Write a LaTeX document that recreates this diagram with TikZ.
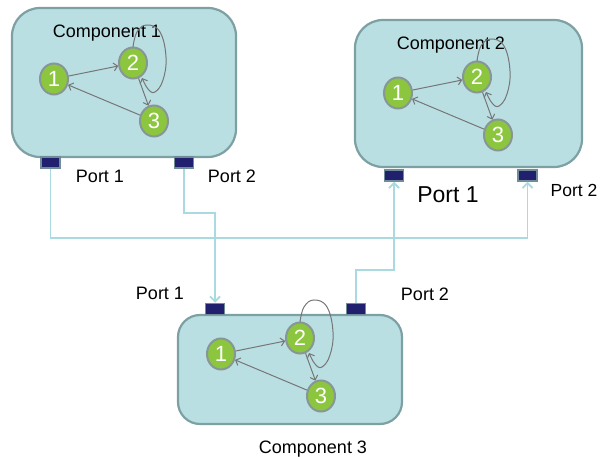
\documentclass[tikz,border=0pt]{standalone}
\usepackage{fontspec}
\setmainfont{Liberation Sans}
\usetikzlibrary{arrows.meta,shapes.geometric}

\definecolor{boxfill}{RGB}{185,223,227}
\definecolor{boxline}{RGB}{125,160,163}
\definecolor{portfill}{RGB}{32,32,110}
\definecolor{portline}{RGB}{112,140,150}
\definecolor{wirecol}{RGB}{168,218,224}
\definecolor{statefill}{RGB}{140,198,63}
\definecolor{stateline}{RGB}{135,150,150}
\definecolor{edgegray}{RGB}{118,118,118}

\tikzset{
  component/.style={draw=boxline, line width=2.2pt, fill=boxfill,
    rounded corners=#1, inner sep=0pt},
  portbox/.style={draw=portline, line width=1.5pt, fill=portfill,
    minimum width=19pt, minimum height=11pt, inner sep=0pt},
  state/.style={ellipse, draw=stateline, line width=2pt, fill=statefill,
    minimum width=28pt, minimum height=31pt, inner sep=0pt, text=white,
    font=\fontsize{22}{22}\selectfont},
  trans/.style={draw=edgegray, line width=1pt,
    -{Straight Barb[length=4pt,width=8pt]}},
  link/.style={draw=wirecol, line width=1.8pt,
    -{Straight Barb[length=5pt,width=10pt]}},
  lbl/.style={font=\fontsize{#1}{#1}\selectfont, anchor=base, inner sep=0pt},
  lbl/.default=18,
  % three-state machine, placed at the centre of state 2
  fsm/.pic={
    \node[state] (-n2) at (0,0) {2};
    \node[state] (-n1) at (-79,16) {1};
    \node[state] (-n3) at (21,58) {3};
    \draw[trans] (-n1) -- (-n2);
    \draw[trans] (-n2) -- (-n3);
    \draw[trans] (-n3) -- (-n1);
    \draw[trans] plot[smooth, tension=0.7] coordinates
      {(0,-16) (4,-31) (14,-38) (27,-31) (33,-6) (30,17) (22,29) (15,26) (9,15)};
  }
}

\begin{document}
\begin{tikzpicture}[x=1pt, y=-1pt]
\useasboundingbox (0,0) rectangle (608,457);

% component boxes
\node[component=28pt, minimum width=224pt, minimum height=149pt] (comp1) at (124,82.5) {};
\node[component=28pt, minimum width=227pt, minimum height=147pt] (comp2) at (468.5,93.5) {};
\node[component=22pt, minimum width=224pt, minimum height=109pt] (comp3) at (290,369.5) {};

% titles
\node[lbl] (t1) at (107,37.5) {Component 1};
\node[lbl] (t2) at (451,50) {Component 2};
\node[lbl] (t3) at (313,453) {Component 3};

% internal state machines
\pic (c1) at (133,63) {fsm};
\pic (c2) at (477,77) {fsm};
\pic (c3) at (300,338) {fsm};

% ports
\node[portbox] (p11) at (50.5,162.5) {};
\node[portbox] (p12) at (184,162.5) {};
\node[portbox] (p21) at (394,175.5) {};
\node[portbox] (p22) at (527.5,175.5) {};
\node[portbox] (p31) at (215,309) {};
\node[portbox] (p32) at (356,309) {};

% port labels
\node[lbl] (l11) at (100,183) {Port 1};
\node[lbl] (l12) at (232,183) {Port 2};
\node[lbl=23] (l21) at (448,203) {Port 1};
\node[lbl=17.5] (l22) at (574,197) {Port 2};
\node[lbl] (l31) at (160,299) {Port 1};
\node[lbl] (l32) at (425,300) {Port 2};

% wiring between ports
\draw[link] (p11.south) -- ++(0,69) -| (p22.south);
\draw[link] (p12.south) -- ++(0,44) -| (p31.north);
\draw[link] (p32.north) -- ++(0,-33) -| (p21.south);
\end{tikzpicture}
\end{document}
